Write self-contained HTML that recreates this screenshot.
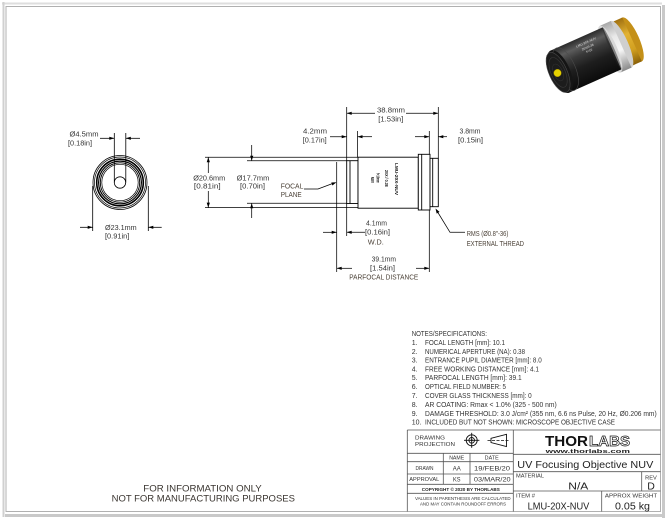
<!DOCTYPE html>
<html>
<head>
<meta charset="utf-8">
<style>
html,body{margin:0;padding:0;background:#fff;}
svg{display:block;}
.d{font-size:7.5px;fill:#333;}
.l{font-size:7.5px;fill:#4a4036;}
.n{font-size:7px;fill:#333;}
.s{font-size:5.3px;fill:#333;}
</style>
</head>
<body>
<svg width="667" height="521" viewBox="0 0 667 521" xmlns="http://www.w3.org/2000/svg" font-family="'Liberation Sans', sans-serif">
<defs>
  <linearGradient id="blk" gradientUnits="userSpaceOnUse" x1="0" y1="-23" x2="0" y2="23">
    <stop offset="0" stop-color="#2b2b2b"/>
    <stop offset="0.18" stop-color="#5c5c5c"/>
    <stop offset="0.35" stop-color="#3a3a3a"/>
    <stop offset="0.6" stop-color="#1e1e1e"/>
    <stop offset="1" stop-color="#0b0b0b"/>
  </linearGradient>
  <linearGradient id="slv" gradientUnits="userSpaceOnUse" x1="0" y1="-25.5" x2="0" y2="25.5">
    <stop offset="0" stop-color="#a8a8a8"/>
    <stop offset="0.3" stop-color="#e8e8e8"/>
    <stop offset="0.6" stop-color="#f6f6f6"/>
    <stop offset="1" stop-color="#8a8a8a"/>
  </linearGradient>
  <linearGradient id="gld" gradientUnits="userSpaceOnUse" x1="0" y1="-24" x2="0" y2="24">
    <stop offset="0" stop-color="#a07010"/>
    <stop offset="0.35" stop-color="#e2b232"/>
    <stop offset="0.7" stop-color="#d2a020"/>
    <stop offset="1" stop-color="#8a6008"/>
  </linearGradient>
</defs>

<!-- page frame -->
<rect x="2" y="2.5" width="660" height="2" fill="#dedede"/>
<rect x="2.5" y="2" width="2" height="515" fill="#d0d0d0"/>
<rect x="662" y="5" width="3" height="513" fill="#c9c9c9"/>
<rect x="5" y="514" width="660" height="3" fill="#c9c9c9"/>
<rect x="6" y="6.5" width="654.5" height="505" fill="none" stroke="#b0b0b0" stroke-width="1"/>

<!-- product image -->
<g transform="translate(559,72) rotate(-24)">
  <ellipse cx="80" cy="0" rx="7" ry="24" fill="#c49018"/>
  <rect x="66" y="-24" width="14" height="48" fill="url(#gld)"/>
  <ellipse cx="68" cy="0" rx="7" ry="25.5" fill="#cfcfcf"/>
  <rect x="56" y="-25.5" width="12" height="51" fill="url(#slv)"/>
  <ellipse cx="56" cy="0" rx="7" ry="25.5" fill="#d8d8d8"/>
  <rect x="0" y="-23" width="58" height="46" fill="url(#blk)"/>
  <ellipse cx="58" cy="0" rx="2" ry="23" fill="#2a2a2a" opacity="0.5"/>
  <ellipse cx="1" cy="0" rx="10" ry="23" fill="#151515"/>
  <ellipse cx="7" cy="0" rx="10" ry="23" fill="none" stroke="#4a4a4a" stroke-width="0.6"/>
  <ellipse cx="-1" cy="0" rx="9" ry="21.5" fill="#1c1c1c" stroke="#4a4a4a" stroke-width="0.6"/>
  <ellipse cx="-1" cy="0" rx="7" ry="16" fill="none" stroke="#3a3a3a" stroke-width="0.6"/>
  <ellipse cx="-1" cy="0" rx="4.5" ry="9" fill="none" stroke="#333" stroke-width="0.5"/>
  <g fill="#bbb" font-size="3.2" font-weight="bold">
    <text x="26" y="-15" transform="rotate(0)">LMU-20X-NUV</text>
    <text x="30" y="-10">20X/0.38</text>
    <text x="33" y="-6">f=10</text>
  </g>
</g>
<circle cx="557.5" cy="73" r="3.8" fill="#e6d200" stroke="#8a7a00" stroke-width="0.5"/>

<!-- ============ LEFT END VIEW ============ -->
<g fill="none" stroke="#000">
  <circle cx="120" cy="182.5" r="27" stroke-width="0.8"/>
  <circle cx="120" cy="182.5" r="25.5" stroke-width="0.7"/>
  <circle cx="120" cy="182.5" r="23.3" stroke-width="1.6"/>
  <circle cx="120" cy="182.5" r="21.4" stroke-width="1.2"/>
  <circle cx="120" cy="182.5" r="19.7" stroke-width="0.9"/>
  <circle cx="120" cy="182.5" r="18.2" stroke-width="0.7"/>
  <circle cx="120" cy="182.5" r="5.7" stroke-width="0.8"/>
  <line x1="114.3" y1="133" x2="114.3" y2="182.5" stroke-width="0.8"/>
  <line x1="125.8" y1="133" x2="125.8" y2="182.5" stroke-width="0.8"/>
  <line x1="100" y1="138.3" x2="114.3" y2="138.3" stroke-width="0.8"/>
  <line x1="140" y1="138.3" x2="125.8" y2="138.3" stroke-width="0.8"/>
  <line x1="92.7" y1="186" x2="92.7" y2="231" stroke-width="0.8"/>
  <line x1="148.3" y1="186" x2="148.3" y2="231" stroke-width="0.8"/>
  <line x1="80" y1="227.3" x2="92.7" y2="227.3" stroke-width="0.8"/>
  <line x1="161.7" y1="227.3" x2="148.3" y2="227.3" stroke-width="0.8"/>
</g>
<g fill="#000">
  <polygon points="114.3,138.3 109.3,136.7 109.3,139.9"/>
  <polygon points="125.8,138.3 130.8,136.7 130.8,139.9"/>
  <polygon points="92.7,227.3 87.7,225.7 87.7,228.9"/>
  <polygon points="148.3,227.3 153.3,225.7 153.3,228.9"/>
</g>
<text class="d" x="69.5" y="136.7" textLength="29" lengthAdjust="spacingAndGlyphs">Ø4.5mm</text>
<text class="d" x="68" y="145.7" textLength="24" lengthAdjust="spacingAndGlyphs">[0.18in]</text>
<text class="d" x="105" y="230" textLength="31.7" lengthAdjust="spacingAndGlyphs">Ø23.1mm</text>
<text class="d" x="105" y="238.7" textLength="24.3" lengthAdjust="spacingAndGlyphs">[0.91in]</text>

<!-- ============ SIDE VIEW ============ -->
<g fill="none" stroke="#000" stroke-width="0.9">
  <!-- body -->
  <rect x="346.7" y="160.7" width="11.3" height="42.8" fill="#fff"/>
  <line x1="350" y1="160.7" x2="350" y2="203.5"/>
  <rect x="358" y="157.2" width="60.3" height="51" fill="#fff"/>
  <rect x="418.3" y="154.3" width="11.7" height="55.7" fill="#fff"/>
  <line x1="421.7" y1="154.3" x2="421.7" y2="210"/>
  <rect x="430" y="158.3" width="8.3" height="48.4" fill="#fff"/>
  <line x1="432.7" y1="158.3" x2="432.7" y2="206.7"/>
</g>
<g fill="none" stroke="#000" stroke-width="0.75">
  <!-- extension lines -->
  <line x1="346.7" y1="107" x2="346.7" y2="160.7"/>
  <line x1="438.3" y1="107" x2="438.3" y2="158.3"/>
  <line x1="357.5" y1="131" x2="357.5" y2="157.2"/>
  <line x1="429.3" y1="131" x2="429.3" y2="154.3"/>
  <line x1="205" y1="157.3" x2="358" y2="157.3"/>
  <line x1="205" y1="207.6" x2="358" y2="207.6"/>
  <line x1="247" y1="160.7" x2="346.7" y2="160.7"/>
  <line x1="247" y1="203.3" x2="346.7" y2="203.3"/>
  <line x1="336.7" y1="162" x2="336.7" y2="272"/>
  <line x1="346.7" y1="203.5" x2="346.7" y2="236"/>
  <line x1="429.3" y1="210" x2="429.3" y2="272"/>
  <!-- dimension lines -->
  <line x1="346.7" y1="113.3" x2="375" y2="113.3"/>
  <line x1="406" y1="113.3" x2="438.3" y2="113.3"/>
  <line x1="330" y1="136.7" x2="346.7" y2="136.7"/>
  <line x1="372" y1="136.7" x2="357.5" y2="136.7"/>
  <line x1="415" y1="136.7" x2="429.3" y2="136.7"/>
  <line x1="447" y1="136.7" x2="438.3" y2="136.7"/>
  <line x1="208.3" y1="157.3" x2="208.3" y2="173"/>
  <line x1="208.3" y1="191" x2="208.3" y2="207.6"/>
  <line x1="251.7" y1="145" x2="251.7" y2="160.7"/>
  <line x1="251.7" y1="218" x2="251.7" y2="203.3"/>
  <line x1="323" y1="232.3" x2="336.7" y2="232.3"/>
  <line x1="365" y1="232.3" x2="346.7" y2="232.3"/>
  <line x1="336.7" y1="268.3" x2="352" y2="268.3"/>
  <line x1="416" y1="268.3" x2="429.3" y2="268.3"/>
  <!-- leaders -->
  <polyline points="304,189 318,189 334,183"/>
  <polyline points="465,232.3 450,232.3 437,211"/>
</g>
<g fill="#000">
  <polygon points="346.7,113.3 351.7,111.7 351.7,114.9"/>
  <polygon points="438.3,113.3 433.3,111.7 433.3,114.9"/>
  <polygon points="346.7,136.7 341.7,135.1 341.7,138.3"/>
  <polygon points="357.5,136.7 362.5,135.1 362.5,138.3"/>
  <polygon points="429.3,136.7 424.3,135.1 424.3,138.3"/>
  <polygon points="438.3,136.7 443.3,135.1 443.3,138.3"/>
  <polygon points="208.3,157.3 206.7,162.3 209.9,162.3"/>
  <polygon points="208.3,207.6 206.7,202.6 209.9,202.6"/>
  <polygon points="251.7,160.7 250.1,155.7 253.3,155.7"/>
  <polygon points="251.7,203.3 250.1,208.3 253.3,208.3"/>
  <polygon points="336.7,232.3 331.7,230.7 331.7,233.9"/>
  <polygon points="346.7,232.3 351.7,230.7 351.7,233.9"/>
  <polygon points="336.7,268.3 341.7,266.7 341.7,269.9"/>
  <polygon points="429.3,268.3 424.3,266.7 424.3,269.9"/>
  <polygon points="336.5,182.2 332.4,185.5 331.3,182.5"/>
  <polygon points="435.5,208.5 439.5,211.9 436.7,213.6"/>
</g>

<!-- body markings -->
<g font-size="4.3" font-weight="bold" fill="#111">
  <text transform="translate(395.2,163) rotate(90)" textLength="32" lengthAdjust="spacingAndGlyphs">LMU-20X-NUV</text>
  <text transform="translate(385.2,170) rotate(90)" textLength="16.7" lengthAdjust="spacingAndGlyphs">20X / 0.38</text>
  <text transform="translate(376.5,173) rotate(90)" textLength="10" lengthAdjust="spacingAndGlyphs">f=10mm</text>
  <text transform="translate(371.2,176.7) rotate(90)" textLength="6.3" lengthAdjust="spacingAndGlyphs">NUV</text>
</g>

<!-- dimension texts -->
<g text-anchor="middle">
  <text class="d" x="391" y="112.7" textLength="28" lengthAdjust="spacingAndGlyphs">38.8mm</text>
  <text class="d" x="390.8" y="121.7" textLength="25" lengthAdjust="spacingAndGlyphs">[1.53in]</text>
  <text class="d" x="315" y="133.7" textLength="24" lengthAdjust="spacingAndGlyphs">4.2mm</text>
  <text class="d" x="314.7" y="142.7" textLength="24" lengthAdjust="spacingAndGlyphs">[0.17in]</text>
  <text class="d" x="470" y="133.7" textLength="21" lengthAdjust="spacingAndGlyphs">3.8mm</text>
  <text class="d" x="470.5" y="142.7" textLength="25" lengthAdjust="spacingAndGlyphs">[0.15in]</text>
  <text class="d" x="209.2" y="180.4" textLength="32" lengthAdjust="spacingAndGlyphs">Ø20.6mm</text>
  <text class="d" x="207.3" y="188.4" textLength="26.7" lengthAdjust="spacingAndGlyphs">[0.81in]</text>
  <text class="d" x="253" y="180.4" textLength="32.7" lengthAdjust="spacingAndGlyphs">Ø17.7mm</text>
  <text class="d" x="252.5" y="188.4" textLength="25" lengthAdjust="spacingAndGlyphs">[0.70in]</text>
  <text class="d" x="376.5" y="225.4" textLength="21" lengthAdjust="spacingAndGlyphs">4.1mm</text>
  <text class="d" x="377.5" y="234.4" textLength="25" lengthAdjust="spacingAndGlyphs">[0.16in]</text>
  <text class="l" x="375.8" y="244.4" textLength="16" lengthAdjust="spacingAndGlyphs">W.D.</text>
  <text class="d" x="383.8" y="261.7" textLength="24.3" lengthAdjust="spacingAndGlyphs">39.1mm</text>
  <text class="d" x="382.5" y="270.4" textLength="25" lengthAdjust="spacingAndGlyphs">[1.54in]</text>
  <text class="l" x="383.8" y="279.4" textLength="69" lengthAdjust="spacingAndGlyphs">PARFOCAL DISTANCE</text>
</g>
<text class="l" x="280.7" y="188.4" textLength="22.7" lengthAdjust="spacingAndGlyphs">FOCAL</text>
<text class="l" x="280.7" y="197" textLength="21" lengthAdjust="spacingAndGlyphs">PLANE</text>
<text class="l" x="466.7" y="236" textLength="41.7" lengthAdjust="spacingAndGlyphs">RMS (Ø0.8"-36)</text>
<text class="l" x="466.7" y="246" textLength="57.3" lengthAdjust="spacingAndGlyphs">EXTERNAL THREAD</text>

<!-- ============ NOTES ============ -->
<text class="n" x="411.7" y="335.8" textLength="75.3" lengthAdjust="spacingAndGlyphs">NOTES/SPECIFICATIONS:</text>
<g class="n">
  <text class="n" x="411.7" y="345.2">1.</text>
  <text class="n" x="425" y="345.2" textLength="80" lengthAdjust="spacingAndGlyphs">FOCAL LENGTH [mm]: 10.1</text>
  <text class="n" x="411.7" y="354.2">2.</text>
  <text class="n" x="425" y="354.2" textLength="100" lengthAdjust="spacingAndGlyphs">NUMERICAL APERTURE (NA): 0.38</text>
  <text class="n" x="411.7" y="362.5">3.</text>
  <text class="n" x="425" y="362.5" textLength="116.7" lengthAdjust="spacingAndGlyphs">ENTRANCE PUPIL DIAMETER [mm]: 8.0</text>
  <text class="n" x="411.7" y="371.5">4.</text>
  <text class="n" x="425" y="371.5" textLength="114" lengthAdjust="spacingAndGlyphs">FREE WORKING DISTANCE [mm]: 4.1</text>
  <text class="n" x="411.7" y="380.2">5.</text>
  <text class="n" x="425" y="380.2" textLength="96.7" lengthAdjust="spacingAndGlyphs">PARFOCAL LENGTH [mm]: 39.1</text>
  <text class="n" x="411.7" y="389.2">6.</text>
  <text class="n" x="425" y="389.2" textLength="81" lengthAdjust="spacingAndGlyphs">OPTICAL FIELD NUMBER: 5</text>
  <text class="n" x="411.7" y="397.8">7.</text>
  <text class="n" x="425" y="397.8" textLength="106.7" lengthAdjust="spacingAndGlyphs">COVER GLASS THICKNESS [mm]: 0</text>
  <text class="n" x="411.7" y="406.8">8.</text>
  <text class="n" x="425" y="406.8" textLength="131.7" lengthAdjust="spacingAndGlyphs">AR COATING: Rmax &lt; 1.0% (325 - 500 nm)</text>
  <text class="n" x="411.7" y="415.8">9.</text>
  <text class="n" x="425" y="415.8" textLength="231.7" lengthAdjust="spacingAndGlyphs">DAMAGE THRESHOLD: 3.0 J/cm² (355 nm, 6.6 ns Pulse, 20 Hz, Ø0.206 mm)</text>
  <text class="n" x="411.7" y="424.5">10.</text>
  <text class="n" x="425" y="424.5" textLength="190" lengthAdjust="spacingAndGlyphs">INCLUDED BUT NOT SHOWN: MICROSCOPE OBJECTIVE CASE</text>
</g>

<!-- ============ TITLE BLOCK ============ -->
<g fill="none" stroke="#555" stroke-width="0.8">
  <line x1="407.3" y1="430" x2="660.5" y2="430"/>
  <line x1="407.3" y1="430" x2="407.3" y2="511.5"/>
  <line x1="513.3" y1="430" x2="513.3" y2="511.5"/>
  <line x1="407.3" y1="453.3" x2="513.3" y2="453.3"/>
  <line x1="407.3" y1="461.7" x2="513.3" y2="461.7"/>
  <line x1="407.3" y1="474" x2="513.3" y2="474"/>
  <line x1="407.3" y1="484.3" x2="513.3" y2="484.3"/>
  <line x1="407.3" y1="493.3" x2="513.3" y2="493.3"/>
  <line x1="443.3" y1="453.3" x2="443.3" y2="484.3"/>
  <line x1="470" y1="453.3" x2="470" y2="484.3"/>
  <line x1="513.3" y1="454.3" x2="660.5" y2="454.3"/>
  <line x1="513.3" y1="471.7" x2="660.5" y2="471.7"/>
  <line x1="513.3" y1="491" x2="660.5" y2="491"/>
  <line x1="641.7" y1="471.7" x2="641.7" y2="491"/>
  <line x1="601.7" y1="491" x2="601.7" y2="511.5"/>
</g>
<!-- projection symbols -->
<g fill="none" stroke="#111" stroke-width="0.9">
  <circle cx="471.7" cy="440.3" r="5.5"/>
  <circle cx="471.7" cy="440.3" r="2.8"/>
  <line x1="464" y1="440.3" x2="479.4" y2="440.3"/>
  <line x1="471.7" y1="432.8" x2="471.7" y2="447.8"/>
  <polygon points="491,438.3 506.5,434.3 506.5,446.5 491,442.5"/>
  <line x1="487.5" y1="440.4" x2="510" y2="440.4" stroke-dasharray="3,1.5" stroke-width="0.7"/>
</g>
<circle cx="471.7" cy="440.3" r="1" fill="#111"/>

<text class="s" x="415" y="439.6" textLength="30" lengthAdjust="spacingAndGlyphs">DRAWING</text>
<text class="s" x="415" y="446.2" textLength="40" lengthAdjust="spacingAndGlyphs">PROJECTION</text>
<g text-anchor="middle">
  <text class="s" x="456.7" y="459.6" textLength="15" lengthAdjust="spacingAndGlyphs">NAME</text>
  <text class="s" x="491.7" y="459.6" textLength="14" lengthAdjust="spacingAndGlyphs">DATE</text>
  <text class="s" x="424.5" y="470.2" textLength="18" lengthAdjust="spacingAndGlyphs">DRAWN</text>
  <text x="456.7" y="470.6" font-size="6.5" fill="#333" textLength="8" lengthAdjust="spacingAndGlyphs">AA</text>
  <text x="492" y="470.6" font-size="6.5" fill="#333" textLength="36" lengthAdjust="spacingAndGlyphs">19/FEB/20</text>
  <text class="s" x="424.3" y="480.9" textLength="30" lengthAdjust="spacingAndGlyphs">APPROVAL</text>
  <text x="456.7" y="481.3" font-size="6.5" fill="#333" textLength="7.5" lengthAdjust="spacingAndGlyphs">KS</text>
  <text x="492.3" y="481.3" font-size="6.5" fill="#333" textLength="36.7" lengthAdjust="spacingAndGlyphs">03/MAR/20</text>
  <text x="460.8" y="490.8" font-size="4.8" font-weight="bold" fill="#222" textLength="78" lengthAdjust="spacingAndGlyphs">COPYRIGHT © 2020 BY THORLABS</text>
  <text x="462.8" y="500" font-size="4.6" fill="#333" textLength="95.7" lengthAdjust="spacingAndGlyphs">VALUES IN PARENTHESIS ARE CALCULATED</text>
  <text x="463" y="505.4" font-size="4.6" fill="#333" textLength="86" lengthAdjust="spacingAndGlyphs">AND MAY CONTAIN ROUNDOFF ERRORS</text>

  <text x="585.3" y="468" font-size="10.5" fill="#222" textLength="136" lengthAdjust="spacingAndGlyphs">UV Focusing Objective NUV</text>
  <text x="578.3" y="489.3" font-size="10" fill="#222" textLength="20" lengthAdjust="spacingAndGlyphs">N/A</text>
  <text class="s" x="651" y="479.6" textLength="11.7" lengthAdjust="spacingAndGlyphs">REV</text>
  <text x="651" y="489.6" font-size="10.5" fill="#222">D</text>
  <text x="558.5" y="509.3" font-size="10" fill="#222" textLength="61.7" lengthAdjust="spacingAndGlyphs">LMU-20X-NUV</text>
  <text class="s" x="631" y="497.6" textLength="52.3" lengthAdjust="spacingAndGlyphs">APPROX WEIGHT</text>
  <text x="632.5" y="509.3" font-size="10" fill="#222" textLength="35" lengthAdjust="spacingAndGlyphs">0.05 kg</text>
</g>
<text class="s" x="516" y="477.6" textLength="28" lengthAdjust="spacingAndGlyphs">MATERIAL</text>
<text class="s" x="516" y="497.6" textLength="19" lengthAdjust="spacingAndGlyphs">ITEM #</text>

<!-- logo -->
<text x="545" y="446" font-size="15" font-weight="bold" fill="#111" textLength="43" lengthAdjust="spacingAndGlyphs">THOR</text>
<text x="589" y="446" font-size="15" font-weight="bold" fill="#fff" stroke="#111" stroke-width="0.7" textLength="41" lengthAdjust="spacingAndGlyphs">LABS</text>
<text x="545.7" y="452.8" font-size="5.5" font-weight="bold" fill="#222" textLength="84.3" lengthAdjust="spacingAndGlyphs">www.thorlabs.com</text>

<!-- bottom-left note -->
<g text-anchor="middle" font-size="9" fill="#3a3530">
  <text x="202.5" y="491.5" textLength="118.4" lengthAdjust="spacingAndGlyphs">FOR INFORMATION ONLY</text>
  <text x="203.3" y="501.5" textLength="183.3" lengthAdjust="spacingAndGlyphs">NOT FOR MANUFACTURING PURPOSES</text>
</g>
</svg>
</body>
</html>
